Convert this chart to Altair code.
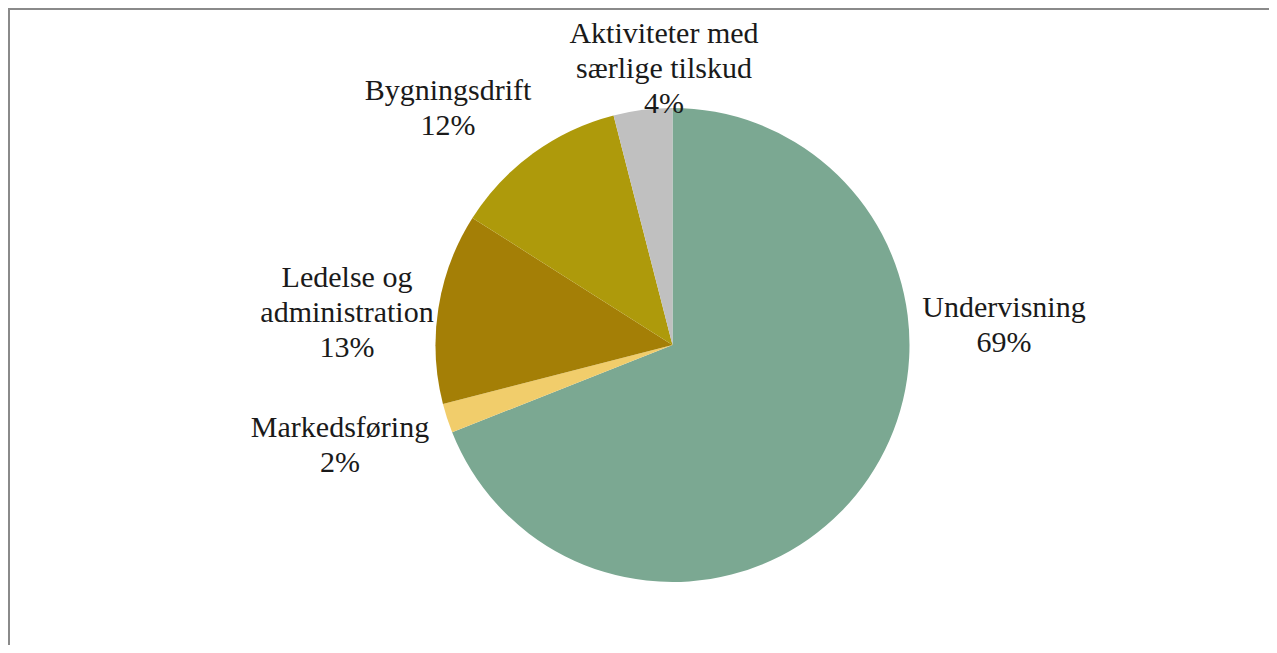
import altair as alt
import pandas as pd

# ---- data ----
categories = ["Undervisning", "Markedsføring", "Ledelse og administration",
              "Bygningsdrift", "Aktiviteter med særlige tilskud"]
label_lines = ["Undervisning", "Markedsføring", "Ledelse og\nadministration",
               "Bygningsdrift", "Aktiviteter med\nsærlige tilskud"]
shares = [69, 2, 13, 12, 4]
colors = ["#7BA892", "#F1CD6B", "#A47F06", "#AE9A0B", "#C0C0C0"]

# ---- layout (label placement, chart pixels) ----
label_x = [996, 332, 339, 440, 656]
label_y = [309, 429, 279, 92, 35]

W, H = 1261, 637
CX, CY, R = 664.5, 337, 237

df = pd.DataFrame({
    "cat": categories,
    "share": shares,
    "idx": list(range(len(categories))),
    "label": [f"{l}\n{s}%" for l, s in zip(label_lines, shares)],
    "lx": label_x,
    "ly": label_y,
})

base = alt.Chart(df)

pie = base.mark_arc(radius=R, stroke=None).encode(
    theta=alt.Theta("share:Q", stack=True),
    order=alt.Order("idx:Q"),
    color=alt.Color("cat:N", scale=alt.Scale(domain=categories, range=colors), legend=None),
    x=alt.value(CX),
    y=alt.value(CY),
)

labels = base.mark_text(
    font="'Liberation Serif', 'Times New Roman', 'DejaVu Serif', serif",
    fontSize=30, lineBreak="\n", lineHeight=35,
    align="center", baseline="alphabetic", color="#1a1a1a"
).encode(
    x=alt.X("lx:Q", scale=None),
    y=alt.Y("ly:Q", scale=None),
    text="label:N",
)

one = pd.DataFrame({"a": [0]})
top_rule = alt.Chart(one).mark_rule(color="#8a8a8a", strokeWidth=2).encode(
    x=alt.value(0), x2=alt.value(W), y=alt.value(1)
)
left_rule = alt.Chart(one).mark_rule(color="#8a8a8a", strokeWidth=2).encode(
    x=alt.value(1), y=alt.value(0), y2=alt.value(H)
)

chart = alt.layer(pie, labels, top_rule, left_rule).properties(
    width=W, height=H, padding=0, autosize=alt.AutoSizeParams(type="none"),
    background="white",
).configure_view(stroke=None)

chart.save("out.html", embed_options={"renderer": "svg", "actions": False})
